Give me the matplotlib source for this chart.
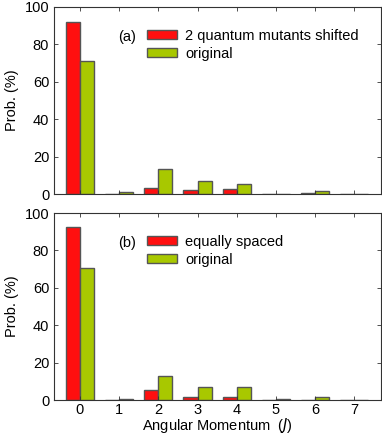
import matplotlib
matplotlib.use("Agg")
import matplotlib.pyplot as plt
import numpy as np

plt.rcParams['font.family'] = ['Liberation Sans', 'DejaVu Sans']

J = [0, 1, 2, 3, 4, 5, 6, 7]
shifted_a = [91.8, 0.2, 3.3, 2.2, 2.5, 0.1, 0.5, 0.1]
original_a = [71.0, 1.1, 13.4, 7.0, 5.4, 0.2, 1.8, 0.1]
spaced_b = [92.5, 0.0, 5.3, 1.6, 1.5, 0.0, 0.0, 0.0]
original_b = [70.8, 0.6, 13.1, 7.0, 7.0, 0.5, 1.4, 0.0]
yticks = [0, 20, 40, 60, 80, 100]

red = '#ff0f0f'
green = '#a8c800'
edge = '#555555'

fig = plt.figure(figsize=(3.82, 4.36), dpi=100)
W, H = 382, 436
ax1 = fig.add_axes([54 / W, 1 - 194 / H, 327 / W, 187 / H])
ax2 = fig.add_axes([54 / W, 1 - 400 / H, 327 / W, 187 / H])

w = 0.36
x = np.array(J)
for ax, r, g, lab, tag in [(ax1, shifted_a, original_a, '2 quantum mutants shifted', '(a)'),
                          (ax2, spaced_b, original_b, 'equally spaced', '(b)')]:
    ax.bar(x - w / 2, r, width=w, color=red, edgecolor=edge, linewidth=1.0, label=lab)
    ax.bar(x + w / 2, g, width=w, color=green, edgecolor=edge, linewidth=1.0, label='original')
    ax.set_xlim(-0.66, 7.68)
    ax.set_ylim(0, 100)
    ax.set_yticks(yticks)
    ax.set_xticks(J)
    ax.tick_params(axis='both', direction='in', labelsize=10.5, length=3, width=0.6,
                   top=True, right=True, colors='#333333', labelcolor='black')
    ax.set_ylabel('Prob. (%)', fontsize=10.5)
    for s in ax.spines.values():
        s.set_linewidth(0.8)
        s.set_color('#333333')
    leg = ax.legend(loc='upper left', bbox_to_anchor=(0.285, 0.885), frameon=False,
                    fontsize=10.5, handlelength=2.05, handleheight=0.55,
                    handletextpad=0.55, labelspacing=0.3, borderaxespad=0,
                    borderpad=0)
    ax.text(0.196, 0.84, tag, transform=ax.transAxes, fontsize=10.5, va='center')

ax1.tick_params(axis='x', labelbottom=False)
ax2.tick_params(axis='x', pad=2.5)
ax2.set_xlabel('Angular Momentum  ($J$)', fontsize=10.5, labelpad=-1)

fig.savefig('out.png', dpi=100)
